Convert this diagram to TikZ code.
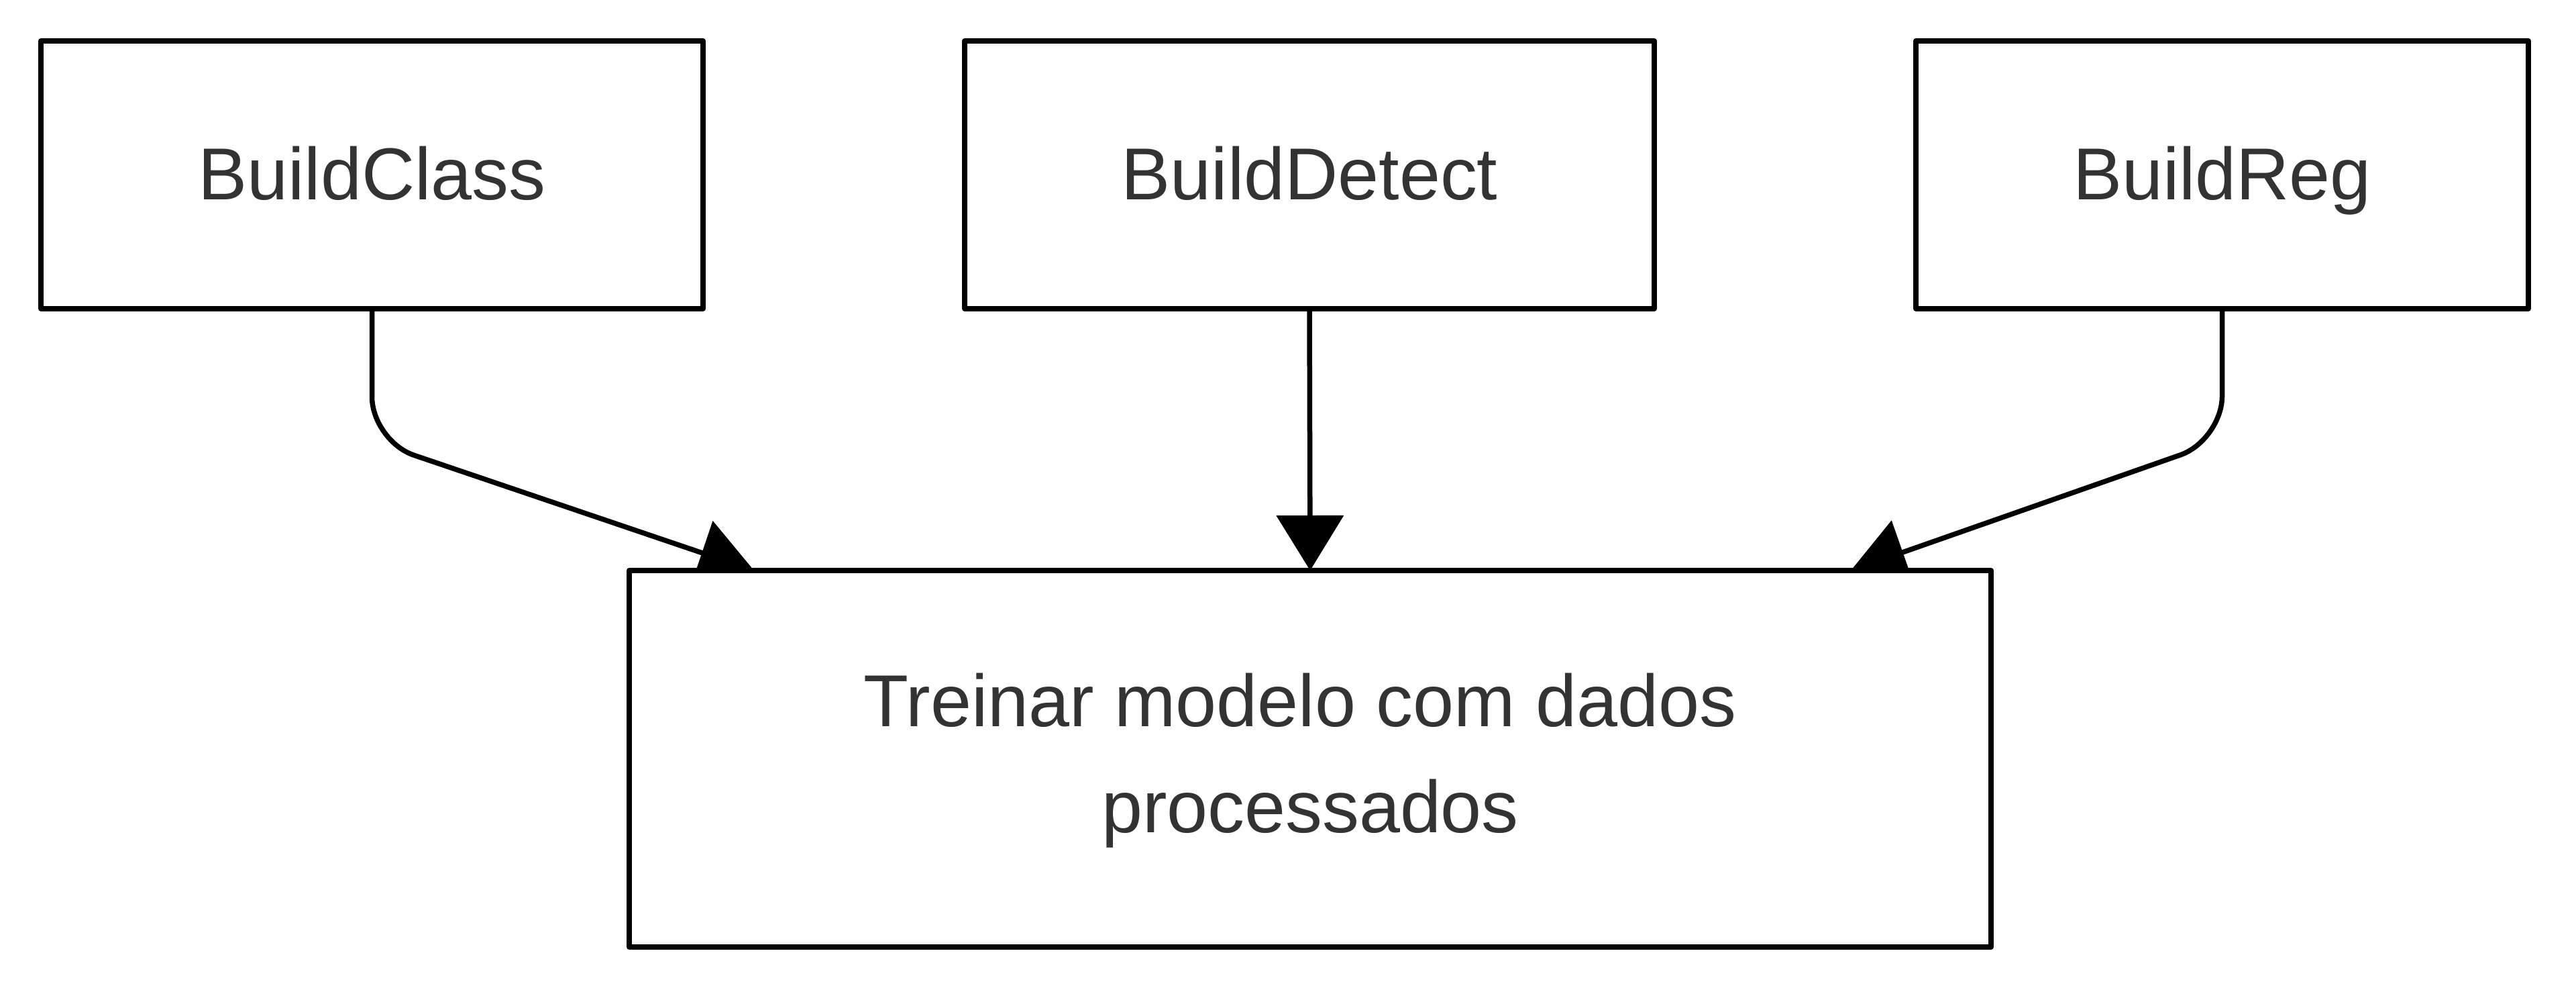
\documentclass[tikz,border=0pt]{standalone}
\usepackage{fontspec}
\setmainfont{Liberation Sans}
\usetikzlibrary{arrows.meta,calc,positioning,backgrounds}
\definecolor{txtgray}{HTML}{333333}

\begin{document}
\begin{tikzpicture}[>={Triangle[length=0.82cm,width=0.99cm]}, line join=round,
    box/.style={draw=black, line width=0.075cm, fill=white, text=txtgray,
      inner sep=0pt, outer sep=0pt, minimum height=3.99cm,
      font=\fontsize{31.2}{45}\selectfont},
    step box/.style={box, text height=0.78cm, text depth=0.05cm},
    flow/.style={->, line width=0.075cm, rounded corners=0.66cm}]

  \useasboundingbox (0,0) rectangle (38.4,-14.8);

  % top row
  \node[step box, minimum width=9.87cm] (class) at (5.545,-2.605) {BuildClass};
  \node[step box, minimum width=10.28cm] (detect) at (19.52,-2.605) {BuildDetect};
  \node[step box, minimum width=9.13cm] (reg) at (33.125,-2.605) {BuildReg};

  % training step
  \node[box, minimum width=20.30cm, minimum height=5.61cm, align=center,
    text height=70.4pt, text depth=8pt] (train)
    at (19.53,-11.305) {Treinar modelo com dados\hspace*{0.3cm}\\processados};

  % edges go under the boxes
  \begin{pgfonlayer}{background}
    \draw[flow] (class.south) -- ++(0,-1.97) -- ($(train.north west)+(1.86,0)$);
    \draw[flow] (detect.south) -- (train.north);
    \draw[flow] (reg.south) -- ++(0,-1.96) -- ($(train.north east)+(-2.09,0)$);
  \end{pgfonlayer}

\end{tikzpicture}
\end{document}
